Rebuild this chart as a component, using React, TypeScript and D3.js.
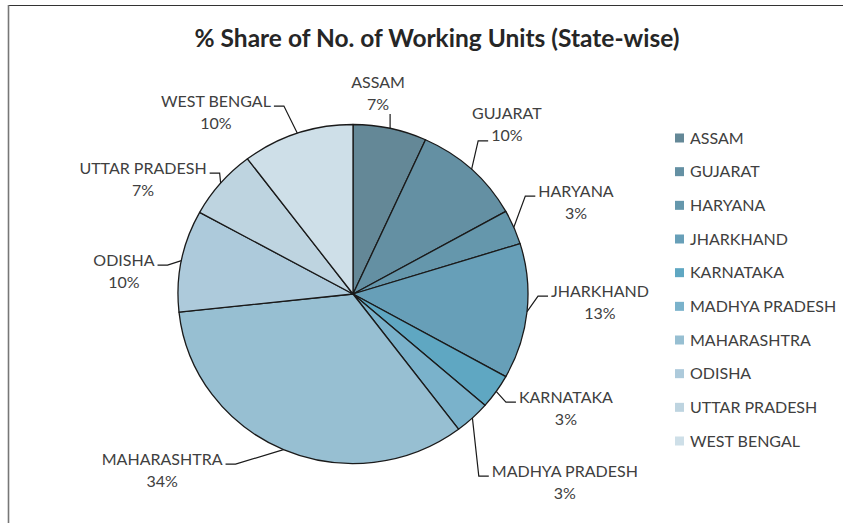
import React, { useEffect, useRef } from "react";
import * as d3 from "d3";

const STATES = [
  "ASSAM",
  "GUJARAT",
  "HARYANA",
  "JHARKHAND",
  "KARNATAKA",
  "MADHYA PRADESH",
  "MAHARASHTRA",
  "ODISHA",
  "UTTAR PRADESH",
  "WEST BENGAL",
];
const SHARES = [6.8, 10.1, 3.3, 12.9, 3.3, 3.3, 33.6, 9.7, 6.7, 10.3];
const COLORS = [
  "#648897",
  "#6490a3",
  "#6597ac",
  "#679fb8",
  "#5fa7c2",
  "#7ab2cb",
  "#97bfd2",
  "#adcadb",
  "#bed4e0",
  "#cedfe8",
];
const TITLE = "% Share of No. of Working Units (State-wise)";

// label layout (polar position of label block relative to pie centre)
const LABEL_ANGLE = [7.1, 42.3, 67.6, 91.9, 118.2, 131.6, 227.3, 275.7, 298.7, 323];
const LABEL_DIST = [202.5, 228.6, 241.2, 247.1, 241.6, 283.3, 259.7, 230.2, 239.4, 227.8];
const LEADER_LINE = [0, 1, 0, 0, 0, 0, 0, 0, 0, 0];

const W = 853;
const H = 523;
const CX = 353;
const CY = 294;
const RX = 175;
const RY = 169.5;
const FONT = "Lato, 'Open Sans', sans-serif";
const LABEL_SIZE = 16;

export default function App() {
  const ref = useRef<SVGSVGElement>(null);

  useEffect(() => {
    const svg = d3.select(ref.current);
    svg.selectAll("*").remove();

    // frame
    svg.append("line").attr("x1", 8).attr("x2", 843).attr("y1", 5.5).attr("y2", 5.5)
      .attr("stroke", "#333").attr("stroke-width", 1.2);
    svg.append("line").attr("x1", 8.5).attr("x2", 8.5).attr("y1", 5).attr("y2", H)
      .attr("stroke", "#777").attr("stroke-width", 1.6);

    svg.append("text")
      .attr("x", 437).attr("y", 47)
      .attr("text-anchor", "middle")
      .attr("font-family", FONT).attr("font-weight", "bold").attr("font-size", 24.5)
      .attr("fill", "#262626")
      .text(TITLE);

    const total = d3.sum(SHARES);
    const pie = d3.pie<number>().sort(null).value((d) => d);
    const arcs = pie(SHARES);
    const arc = d3.arc<d3.PieArcDatum<number>>().innerRadius(0).outerRadius(RX);

    const g = svg.append("g")
      .attr("transform", `translate(${CX},${CY}) scale(1,${RY / RX})`);
    g.selectAll("path")
      .data(arcs)
      .join("path")
      .attr("d", arc as any)
      .attr("fill", (_d, i) => COLORS[i])
      .attr("stroke", "#1a1a1a")
      .attr("stroke-width", 1.3)
      .attr("stroke-linejoin", "round");

    // labels
    const lg = svg.append("g");
    arcs.forEach((a, i) => {
      const mid = (a.startAngle + a.endAngle) / 2;
      const ex = CX + RX * Math.sin(mid);
      const ey = CY - RY * Math.cos(mid);
      const la = (LABEL_ANGLE[i] * Math.PI) / 180;
      const lx = CX + LABEL_DIST[i] * Math.sin(la);
      const ly = CY - LABEL_DIST[i] * Math.cos(la);
      const lines = [STATES[i], Math.round((SHARES[i] / total) * 100) + "%"];
      const widths: number[] = [];
      lines.forEach((t, k) => {
        const yc = ly + (k === 0 ? -11 : 11);
        const te = lg.append("text")
          .attr("x", lx).attr("y", yc + 5.5)
          .attr("text-anchor", "middle")
          .attr("font-family", FONT).attr("font-size", LABEL_SIZE)
          .attr("fill", "#404040")
          .text(t);
        widths.push((te.node() as SVGTextElement).getComputedTextLength());
      });
      let pts: [number, number][];
      if (Math.abs(lx - CX) < 60 && ly < CY) {
        pts = [[ex, ey], [ex, ly + 21]];
      } else {
        const k = LEADER_LINE[i];
        const yc = ly + (k === 0 ? -11 : 11) + 5;
        const right = lx > CX;
        const cxn = right ? lx - widths[k] / 2 - 3 : lx + widths[k] / 2 + 3;
        const elbow = right ? cxn - 10 : cxn + 10;
        pts = [[ex, ey], [elbow, yc], [cxn, yc]];
      }
      lg.append("path")
        .attr("d", d3.line()(pts))
        .attr("fill", "none")
        .attr("stroke", "#1a1a1a")
        .attr("stroke-width", 1.2);
    });

    // legend
    const leg = svg.append("g");
    const ys = d3.scalePoint<string>().domain(STATES).range([138, 441]);
    STATES.forEach((s, i) => {
      const y = ys(s)!;
      leg.append("rect")
        .attr("x", 675).attr("y", y - 4.5).attr("width", 9).attr("height", 9)
        .attr("fill", COLORS[i]);
      leg.append("text")
        .attr("x", 690).attr("y", y + 5.5)
        .attr("font-family", FONT).attr("font-size", LABEL_SIZE)
        .attr("fill", "#404040")
        .text(s);
    });
  }, []);

  return (
    <svg
      ref={ref}
      width={W}
      height={H}
      style={{ position: "absolute", left: 0, top: 0, background: "#fff" }}
    />
  );
}
